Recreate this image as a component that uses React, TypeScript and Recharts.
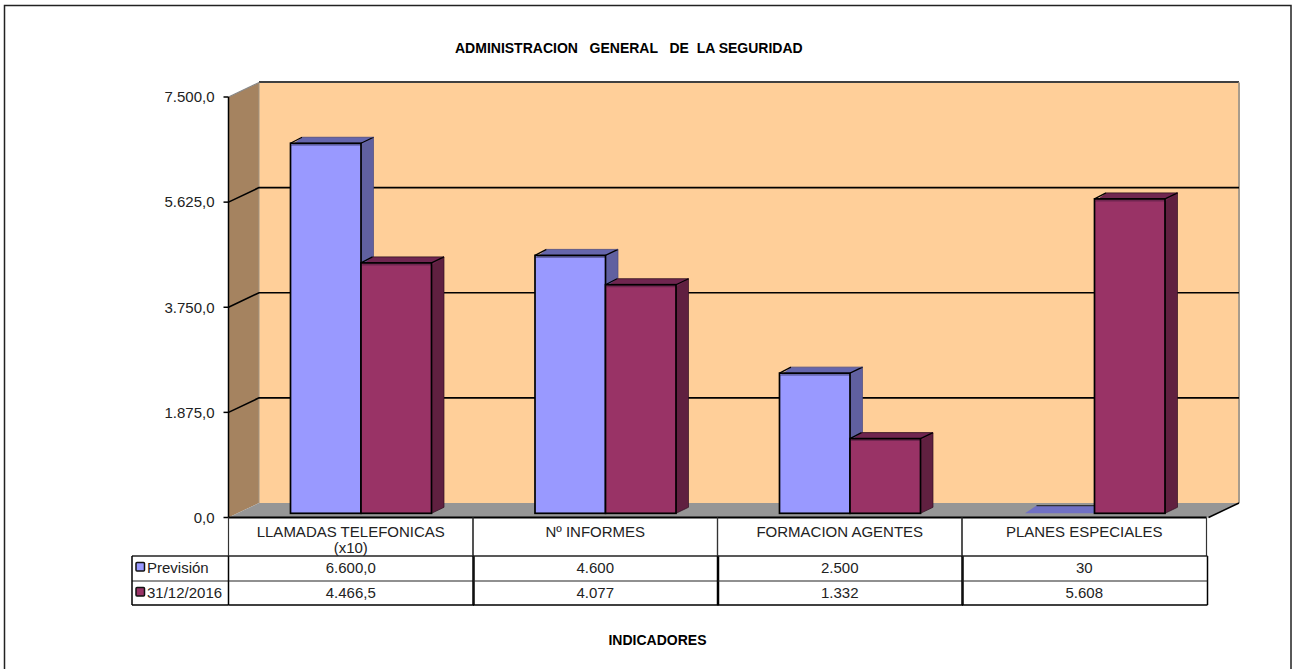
import { Bar, BarChart, CartesianGrid, XAxis, YAxis } from "recharts";

const categories = ["LLAMADAS TELEFONICAS", "Nº INFORMES", "FORMACION AGENTES", "PLANES ESPECIALES"];
const categoryNotes = ["(x10)", "", "", ""];
const prevision = [6600, 4600, 2500, 30];
const cierre = [4466.5, 4077, 1332, 5608];
const previsionCells = ["6.600,0", "4.600", "2.500", "30"];
const cierreCells = ["4.466,5", "4.077", "1.332", "5.608"];
const yTicks = [0, 1875, 3750, 5625, 7500];
const seriesNames = ["Previsión", "31/12/2016"];

const data = categories.map((name, i) => ({
  name,
  prevision: prevision[i],
  cierre: cierre[i],
}));

const FONT = "'Liberation Sans', Arial, sans-serif";
const WIDTH = 1292;
const HEIGHT = 669;
const LEFT = 228.5;
const RIGHT = 1206.5;
const TOP = 97;
const BOTTOM = 517.5;
const WALL_DX = 30.5;
const WALL_DY = -14.5;
const COLUMN = (RIGHT - LEFT) / 4;

const formatTick = (v: number) => v.toLocaleString("de-DE", { minimumFractionDigits: 1, maximumFractionDigits: 1 });

function pts(list: number[][]) {
  return list.map((p) => p.join(",")).join(" ");
}

// 3D column: front face plus top and side, pushed back into the "room"
function Bar3D(props: any) {
  const { x, y, width, height, front, side, top, edge } = props;
  const fx = x + 10;
  const fy = y - 4.2;
  const dx = 12.5;
  const dy = -6;
  const strip = 2.5;
  // a column this short is only its top face, seen lying on the floor
  if (height < 3) {
    return (
      <g>
        <polygon
          points={pts([
            [fx + 1, fy + height],
            [fx + dx, fy + dy],
            [fx + width + dx, fy + dy],
            [fx + width, fy + height],
          ])}
          fill="#7070C4"
        />
        <line x1={fx + dx} y1={fy + dy} x2={fx + width + dx} y2={fy + dy} stroke="#333" strokeWidth={1.2} />
      </g>
    );
  }
  return (
    <g>
      <polygon
        points={pts([
          [fx + width, fy],
          [fx + width + dx, fy + dy],
          [fx + width + dx, fy + height + dy],
          [fx + width, fy + height],
        ])}
        fill={side}
        stroke={edge}
        strokeWidth={0.7}
      />
      <rect x={fx} y={fy} width={width} height={height} fill={front} />
      <polygon
        points={pts([
          [fx, fy + strip],
          [fx + dx - 1, fy + dy],
          [fx + width + dx, fy + dy],
          [fx + width, fy + strip],
        ])}
        fill={top}
      />
      <line x1={fx} y1={fy} x2={fx + dx - 1} y2={fy + dy} stroke="#000" strokeWidth={1.2} />
      <line x1={fx + width} y1={fy} x2={fx + width + dx} y2={fy + dy} stroke="#000" strokeWidth={1.2} />
      <line x1={fx + dx - 1} y1={fy + dy} x2={fx + width + dx} y2={fy + dy} stroke={edge} strokeWidth={0.8} />
      <rect x={fx} y={fy} width={width} height={height} fill="none" stroke="#000" strokeWidth={1.7} />
    </g>
  );
}

function BackLine(props: any) {
  const { x1, y1, x2 } = props;
  // top and bottom of the scale are the wall edges, not grid lines
  if (Math.abs(y1 - TOP) < 1 || Math.abs(y1 - BOTTOM) < 1) return <g />;
  return (
    <polyline
      points={pts([
        [x1, y1],
        [x1 + WALL_DX, y1 + WALL_DY],
        [x2 + WALL_DX + 2, y1 + WALL_DY],
      ])}
      fill="none"
      stroke="#000"
      strokeWidth={1.6}
    />
  );
}

function TableTick(props: any) {
  const { x, index } = props;
  const left = x - COLUMN / 2;
  const right = x + COLUMN / 2;
  const y0 = BOTTOM;
  const text = { fontFamily: FONT, fontSize: 15, fill: "#222", textAnchor: "middle" as const };
  return (
    <g>
      <line x1={left} y1={y0} x2={left} y2={556} stroke="#333" strokeWidth={1.2} />
      <line x1={right} y1={y0} x2={right} y2={556} stroke="#333" strokeWidth={1.2} />
      <line x1={left} y1={556} x2={left} y2={605} stroke="#000" strokeWidth={1.5} />
      <line x1={right + 1} y1={556} x2={right + 1} y2={605} stroke="#000" strokeWidth={1.5} />
      <line x1={left} y1={556} x2={right + 1} y2={556} stroke="#222" strokeWidth={1.4} />
      <line x1={left} y1={581} x2={right + 1} y2={581} stroke="#222" strokeWidth={1.2} />
      <line x1={left} y1={605} x2={right + 1} y2={605} stroke="#000" strokeWidth={1.5} />
      <text x={x} y={537} {...text}>{categories[index]}</text>
      {categoryNotes[index] ? <text x={x} y={553} {...text}>{categoryNotes[index]}</text> : null}
      <text x={x} y={573} {...text}>{previsionCells[index]}</text>
      <text x={x} y={597.5} {...text}>{cierreCells[index]}</text>
    </g>
  );
}

function LegendCell({ y, color, label }: { y: number; color: string; label: string }) {
  return (
    <g>
      <rect x={136} y={y - 4.5} width={8.5} height={8.5} rx={1} fill={color} stroke="#111" strokeWidth={1.5} />
      <text x={147} y={y + 5.5} fontFamily={FONT} fontSize={15} fill="#222">{label}</text>
    </g>
  );
}

function Backdrop() {
  const backTop = TOP + WALL_DY;
  const backBottom = BOTTOM + WALL_DY;
  const backLeft = LEFT + WALL_DX;
  const backRight = RIGHT + 2 + WALL_DX;
  return (
    <svg width={WIDTH} height={HEIGHT} style={{ position: "absolute", left: 0, top: 0 }}>
      <rect x={4.5} y={5.5} width={1286.5} height={670} fill="#fff" stroke="#222" strokeWidth={1.5} />
      <rect x={backLeft} y={backTop} width={backRight - backLeft} height={backBottom - backTop} fill="#FFCF99" />
      <polygon
        points={pts([
          [LEFT, TOP],
          [backLeft, backTop],
          [backLeft, backBottom],
          [LEFT, BOTTOM],
        ])}
        fill="#A58360"
      />
      <polygon
        points={pts([
          [LEFT, BOTTOM],
          [backLeft, backBottom],
          [backRight, backBottom],
          [RIGHT + 2, BOTTOM],
        ])}
        fill="#969696"
      />
      <line x1={backLeft} y1={backTop - 0.5} x2={backRight} y2={backTop - 0.5} stroke="#404040" strokeWidth={2} />
      <line x1={backRight} y1={backTop} x2={backRight} y2={backBottom} stroke="#A89C8C" strokeWidth={2} />
      <line x1={backLeft} y1={backTop} x2={backLeft} y2={backBottom} stroke="#A09484" strokeWidth={1} />
      <line x1={LEFT} y1={TOP} x2={backLeft} y2={backTop} stroke="#888" strokeWidth={1.2} />
      <line x1={RIGHT + 2} y1={BOTTOM} x2={backRight} y2={backBottom} stroke="#000" strokeWidth={1.5} />
    </svg>
  );
}

export default function App() {
  return (
    <div style={{ position: "absolute", left: 0, top: 0, width: WIDTH, height: HEIGHT, background: "#fff" }}>
      <Backdrop />
      <div style={{ position: "absolute", left: 0, top: 0 }}>
        <BarChart
          width={WIDTH}
          height={HEIGHT}
          data={data}
          margin={{ top: TOP, right: WIDTH - RIGHT, bottom: HEIGHT - BOTTOM - 100, left: LEFT - 80 }}
          barCategoryGap="21%"
          barGap={0}
        >
          <CartesianGrid vertical={false} horizontal={(p: any) => <BackLine key={p.key} {...p} />} stroke="#000" />
          <XAxis
            dataKey="name"
            height={100}
            interval={0}
            axisLine={{ stroke: "#000", strokeWidth: 2 }}
            tickLine={false}
            tickSize={0}
            tick={(p: any) => <TableTick {...p} />}
          />
          <YAxis
            width={80}
            domain={[0, 7500]}
            ticks={yTicks}
            interval={0}
            tickFormatter={formatTick}
            axisLine={{ stroke: "#000", strokeWidth: 1.5 }}
            tickLine={{ stroke: "#000", strokeWidth: 1.5 }}
            tickSize={5}
            tickMargin={9}
            tick={{ fontFamily: FONT, fontSize: 15, fill: "#222" }}
          />
          <Bar
            dataKey="prevision"
            barSize={70.5}
            isAnimationActive={false}
            shape={(p: any) => <Bar3D {...p} front="#9999FF" side="#6060A0" top="#6666AC" edge="#4A4A80" />}
          />
          <Bar
            dataKey="cierre"
            barSize={70.5}
            isAnimationActive={false}
            shape={(p: any) => <Bar3D {...p} front="#993366" side="#602040" top="#702650" edge="#301020" />}
          />
          <text x={455} y={52.5} fontFamily={FONT} fontSize={14} fontWeight="bold" fill="#000" style={{ whiteSpace: "pre" }}>
            {"ADMINISTRACION   GENERAL   DE  LA SEGURIDAD"}
          </text>
          <text x={657.5} y={645} textAnchor="middle" fontFamily={FONT} fontSize={14} fontWeight="bold" fill="#000">
            INDICADORES
          </text>
          <line x1={132} y1={556} x2={LEFT} y2={556} stroke="#222" strokeWidth={1.4} />
          <line x1={132} y1={581} x2={LEFT} y2={581} stroke="#222" strokeWidth={1.2} />
          <line x1={132} y1={605} x2={LEFT} y2={605} stroke="#000" strokeWidth={1.5} />
          <line x1={132} y1={556} x2={132} y2={605} stroke="#000" strokeWidth={1.5} />
          <LegendCell y={567} color="#9999FF" label={seriesNames[0]} />
          <LegendCell y={592} color="#993366" label={seriesNames[1]} />
        </BarChart>
      </div>
    </div>
  );
}
